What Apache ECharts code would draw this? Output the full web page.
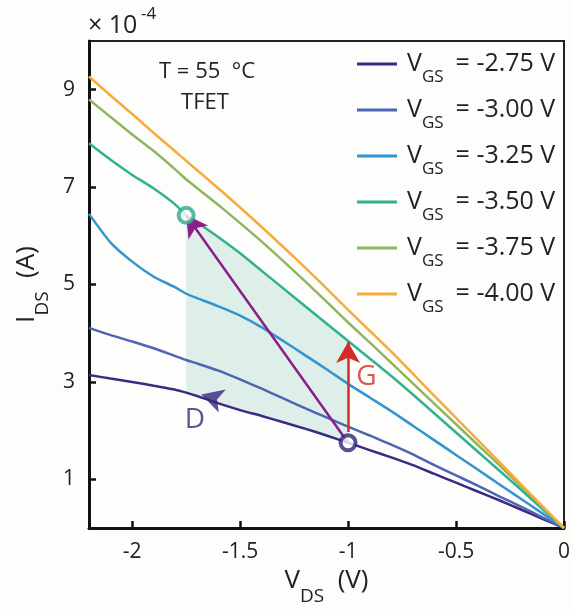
<!DOCTYPE html>
<html>
<head>
<meta charset="utf-8">
<script src="https://cdn.jsdelivr.net/npm/echarts@6/dist/echarts.min.js"></script>
<style>
    html, body { margin: 0; padding: 0; background: #fdfdfb; }
    #chart { width: 573px; height: 615px; }
</style>
</head>
<body>
<div id="chart"></div>
<script>
// V_DS (V)
var vds = [0, -0.1, -0.2, -0.3, -0.4, -0.5, -0.6, -0.7, -0.8, -0.9, -1.0, -1.1, -1.2,
           -1.3, -1.4, -1.5, -1.6, -1.7, -1.75, -1.8, -1.9, -2.0, -2.1, -2.2];

// I_DS (x 1e-4 A), one list per V_GS
var i275 = [0, 0.19, 0.38, 0.57, 0.75, 0.93, 1.11, 1.29, 1.45, 1.60, 1.75, 1.90, 2.04,
            2.17, 2.30, 2.42, 2.56, 2.71, 2.78, 2.84, 2.92, 3.00, 3.07, 3.14];
var i300 = [0, 0.22, 0.44, 0.65, 0.87, 1.08, 1.29, 1.51, 1.71, 1.90, 2.08, 2.27, 2.46,
            2.66, 2.86, 3.05, 3.23, 3.38, 3.45, 3.53, 3.69, 3.83, 3.96, 4.11];
var i325 = [0, 0.30, 0.60, 0.90, 1.20, 1.50, 1.80, 2.10, 2.40, 2.68, 2.96, 3.26, 3.55,
            3.84, 4.12, 4.36, 4.55, 4.72, 4.81, 4.94, 5.16, 5.47, 5.86, 6.45];
var i350 = [0, 0.39, 0.79, 1.18, 1.57, 1.96, 2.35, 2.74, 3.12, 3.48, 3.84, 4.20, 4.56,
            4.92, 5.28, 5.64, 5.97, 6.28, 6.42, 6.64, 6.97, 7.25, 7.56, 7.90];
var i375 = [0, 0.43, 0.86, 1.29, 1.71, 2.13, 2.55, 2.97, 3.39, 3.81, 4.22, 4.65, 5.07,
            5.48, 5.88, 6.26, 6.63, 6.98, 7.16, 7.36, 7.74, 8.08, 8.44, 8.80];
var i400 = [0, 0.45, 0.90, 1.36, 1.81, 2.26, 2.71, 3.17, 3.62, 4.05, 4.48, 4.92, 5.35,
            5.77, 6.18, 6.58, 6.97, 7.35, 7.54, 7.73, 8.11, 8.50, 8.88, 9.27];

var vgsNames = ['-2.75 V', '-3.00 V', '-3.25 V', '-3.50 V', '-3.75 V', '-4.00 V'];
var curves = [i275, i300, i325, i350, i375, i400];
var colors = ['#3b2a84', '#4d66b2', '#3394d1', '#31b18e', '#8fb65e', '#f8ab3d'];

var xTicks = [-2, -1.5, -1, -0.5, 0];
var yTicks = [1, 3, 5, 7, 9];

// annotation points
var pD = -1.75;   // drain sweep end
var pG = -1.0;    // gate sweep point
var gTop = 3.82;  // red arrow tip (on -3.50 V curve)
var gBottom = 1.97;
var dArrow = [-1.68, 2.74];
var dLabel = [-1.71, 2.22];
var gLabel = [-0.915, 3.10];

function at(arr, v) {
    return arr[vds.indexOf(v)];
}

var font = 'Open Sans';
var series = [];

// shaded region between -2.75 V and -3.50 V curves, V_DS from -1.75 to -1
series.push({
    type: 'custom',
    silent: true,
    z: 1,
    data: [[pG, 0]],
    renderItem: function (params, api) {
        var pts = [];
        for (var i = 0; i < vds.length; i++) {
            if (vds[i] <= pG && vds[i] >= pD) pts.push(api.coord([vds[i], i350[i]]));
        }
        for (var j = vds.length - 1; j >= 0; j--) {
            if (vds[j] <= pG && vds[j] >= pD) pts.push(api.coord([vds[j], i275[j]]));
        }
        return { type: 'polygon', shape: { points: pts }, style: { fill: '#deefe9' } };
    }
});

for (var k = 0; k < curves.length; k++) {
    series.push({
        name: vgsNames[k],
        type: 'line',
        symbol: 'none',
        smooth: 0.2,
        z: 3,
        data: vds.map(function (v, i) { return [v, curves[k][i]]; }),
        lineStyle: { color: colors[k], width: 2.5 },
        itemStyle: { color: colors[k] }
    });
}

// arrows
series.push({
    type: 'line',
    data: [],
    z: 5,
    markLine: {
        silent: true,
        animation: false,
        symbol: ['none', 'arrow'],
        symbolSize: [18, 21],
        label: { show: false },
        data: [
            [{ coord: [pG, at(i275, pG)], lineStyle: { color: '#8a1f8a', width: 2.5, type: 'solid' } },
             { coord: [pD, at(i350, pD)] }],
            [{ coord: [pG, gBottom], lineStyle: { color: '#d32b27', width: 2.5, type: 'solid' } },
             { coord: [pG, gTop] }]
        ]
    }
});

// D arrowhead
series.push({
    type: 'scatter',
    z: 6,
    symbol: 'arrow',
    symbolSize: [18, 22],
    symbolRotate: 73,
    itemStyle: { color: '#35277e' },
    data: [dArrow]
});

// labels D and G
series.push({
    type: 'scatter',
    z: 6,
    symbolSize: 0,
    data: [
        { value: dLabel, label: { formatter: 'D', color: '#35277e' } },
        { value: gLabel, label: { formatter: 'G', color: '#d32b27' } }
    ],
    label: { show: true, position: 'inside', fontSize: 28, fontFamily: font }
});

// circle markers
series.push({
    type: 'scatter',
    z: 8,
    symbol: 'circle',
    symbolSize: 15,
    data: [
        { value: [pD, at(i350, pD)], itemStyle: { color: '#fff', borderColor: '#2fa888', borderWidth: 4 } },
        { value: [pG, at(i275, pG)], itemStyle: { color: '#fff', borderColor: '#2f2478', borderWidth: 4 } }
    ]
});

var axisName = {
    fontFamily: font,
    rich: {
        a: { fontSize: 26, fontFamily: font, color: '#222', lineHeight: 28, verticalAlign: 'top' },
        b: { fontSize: 19, fontFamily: font, color: '#222', lineHeight: 20, verticalAlign: 'top', padding: [19, 0, 0, 0] }
    }
};

var chart = echarts.init(document.getElementById('chart'));
chart.setOption({
    backgroundColor: '#fdfdfb',
    animation: false,
    textStyle: { fontFamily: font },
    grid: {
        left: 89, top: 41, right: 6, bottom: 87,
        show: true, borderColor: '#222', borderWidth: 2
    },
    legend: {
        orient: 'vertical',
        left: 352,
        top: 46,
        icon: 'rect',
        itemWidth: 40,
        itemHeight: 3,
        itemGap: 11,
        data: vgsNames,
        formatter: function (name) {
            return '{v|V}{s|GS}{t|= ' + name + '}';
        },
        textStyle: {
            fontFamily: font,
            color: '#222',
            rich: {
                v: { fontSize: 25, fontFamily: font, lineHeight: 26, verticalAlign: 'top', padding: [0, 0, 0, 5] },
                s: { fontSize: 17, fontFamily: font, lineHeight: 18, verticalAlign: 'top', padding: [18, 0, 0, 0] },
                t: { fontSize: 25, fontFamily: font, lineHeight: 26, verticalAlign: 'top', padding: [0, 0, 0, 12] }
            }
        }
    },
    xAxis: {
        type: 'value',
        min: -2.2,
        max: 0,
        name: '{a|V}{b|DS}{a|  (V)}',
        nameLocation: 'middle',
        nameGap: 40,
        nameTextStyle: axisName,
        splitLine: { show: false },
        axisLine: { onZero: false, lineStyle: { color: '#111', width: 3 } },
        axisTick: { inside: true, length: 7, lineStyle: { color: '#111', width: 2.5 }, customValues: xTicks },
        axisLabel: { fontSize: 21, fontFamily: font, color: '#222', margin: 14, customValues: xTicks }
    },
    yAxis: {
        type: 'value',
        min: 0,
        max: 10,
        name: '{a|I}{b|DS}{a|  (A)}',
        nameLocation: 'middle',
        nameRotate: 90,
        nameGap: 44,
        nameTextStyle: axisName,
        splitLine: { show: false },
        axisLine: { onZero: false, lineStyle: { color: '#111', width: 3 } },
        axisTick: { inside: true, length: 7, lineStyle: { color: '#111', width: 2.5 }, customValues: yTicks },
        axisLabel: { fontSize: 21, fontFamily: font, color: '#222', margin: 14, customValues: yTicks }
    },
    graphic: [
        {
            type: 'text', x: 88, y: 26,
            style: { text: '× 10', fontSize: 25, fontFamily: font, fill: '#222', align: 'left', verticalAlign: 'middle' }
        },
        {
            type: 'text', x: 141, y: 14,
            style: { text: '-4', fontSize: 17, fontFamily: font, fill: '#222', align: 'left', verticalAlign: 'middle' }
        },
        {
            type: 'text', x: 207, y: 72,
            style: { text: 'T = 55  °C', fontSize: 22, fontFamily: font, fill: '#222', align: 'center', verticalAlign: 'middle' }
        },
        {
            type: 'text', x: 205, y: 103,
            style: { text: 'TFET', fontSize: 22, fontFamily: font, fill: '#222', align: 'center', verticalAlign: 'middle' }
        }
    ],
    series: series
});
</script>
</body>
</html>
